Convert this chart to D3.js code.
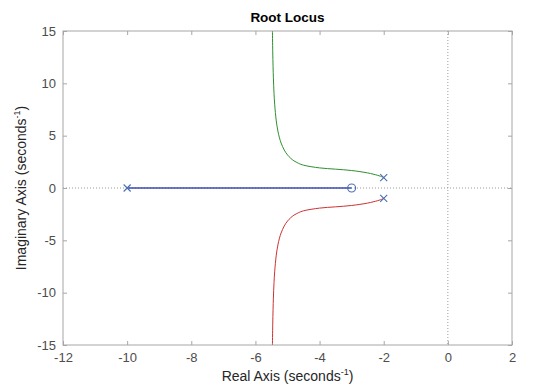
<!DOCTYPE html>
<html>
<head>
<meta charset="utf-8">
<script src="https://cdn.jsdelivr.net/npm/d3@7"></script>
<style>
  body { margin: 0; background: #fff; }
  svg { font-family: "Liberation Sans", Arial, sans-serif; }
</style>
</head>
<body>
<div id="chart"></div>
<script>
// values
var xTicks = [-12, -10, -8, -6, -4, -2, 0, 2];
var yTicks = [-15, -10, -5, 0, 5, 10, 15];
var poles = [[-10, 0], [-2, 1], [-2, -1]];
var zeros = [[-3, 0]];
var realBranch = [[-10, 0], [-3, 0]];
var upperRe = [-2, -2.1, -2.2, -2.5, -3, -3.5, -4, -4.5, -4.65, -4.8, -4.9, -5, -5.1, -5.2, -5.25, -5.3, -5.35, -5.4, -5.42, -5.44, -5.45, -5.46, -5.47];
var upperIm = [1, 1.12, 1.22, 1.44, 1.67, 1.80, 1.92, 2.18, 2.35, 2.60, 2.84, 3.16, 3.62, 4.30, 4.79, 5.45, 6.41, 8.01, 9.03, 10.52, 11.58, 13.0, 15.08];
var lowerRe = upperRe.slice();
var lowerIm = [-1, -1.12, -1.22, -1.44, -1.67, -1.80, -1.92, -2.18, -2.35, -2.60, -2.84, -3.16, -3.62, -4.30, -4.79, -5.45, -6.41, -8.01, -9.03, -10.52, -11.58, -13.0, -15.08];

var W = 549, H = 387;
var mLeft = 63, mRight = 512, mTop = 31, mBottom = 345;

var svg = d3.select('#chart').append('svg')
  .attr('width', W).attr('height', H);

var x = d3.scaleLinear().domain([-12, 2]).range([mLeft, mRight]);
var y = d3.scaleLinear().domain([-15, 15]).range([mBottom, mTop]);

svg.append('clipPath').attr('id', 'clip')
  .append('rect').attr('x', mLeft).attr('y', mTop)
  .attr('width', mRight - mLeft).attr('height', mBottom - mTop);

var axisColor = '#a6a6a6', labelColor = '#4d4d4d';
var fmt = function(d) { return String(d); };

// dotted zero lines
svg.append('line')
  .attr('x1', mLeft).attr('x2', mRight).attr('y1', y(0)).attr('y2', y(0))
  .attr('stroke', '#9a9a9a').attr('stroke-dasharray', '1,2');
svg.append('line')
  .attr('x1', x(0)).attr('x2', x(0)).attr('y1', mTop).attr('y2', mBottom)
  .attr('stroke', '#9a9a9a').attr('stroke-dasharray', '1,2');

var xy = d3.line().x(function(d) { return x(d[0]); }).y(function(d) { return y(d[1]); });
var smooth = d3.line().x(function(d) { return x(d[0]); }).y(function(d) { return y(d[1]); })
  .curve(d3.curveCatmullRom);

var g = svg.append('g').attr('clip-path', 'url(#clip)');

g.append('path').datum(realBranch).attr('d', xy)
  .attr('fill', 'none').attr('stroke', '#3a4ab0').attr('stroke-width', 1.6);
g.append('path').datum(d3.zip(upperRe, upperIm)).attr('d', smooth)
  .attr('fill', 'none').attr('stroke', '#2f8f2f').attr('stroke-width', 1);
g.append('path').datum(d3.zip(lowerRe, lowerIm)).attr('d', smooth)
  .attr('fill', 'none').attr('stroke', '#cc3333').attr('stroke-width', 1);

// axes box
svg.append('rect').attr('x', mLeft).attr('y', mTop)
  .attr('width', mRight - mLeft).attr('height', mBottom - mTop)
  .attr('fill', 'none').attr('stroke', axisColor).attr('stroke-width', 1);

function styleAxis(sel) {
  sel.select('.domain').remove();
  sel.selectAll('.tick line').attr('stroke', axisColor);
  sel.selectAll('.tick text').attr('fill', labelColor).style('font-size', '13px')
    .style('font-family', '"Liberation Sans", Arial, sans-serif');
}

svg.append('g').attr('transform', 'translate(0,' + mBottom + ')')
  .call(d3.axisBottom(x).tickValues(xTicks).tickSize(-4).tickPadding(8).tickFormat(fmt)).call(styleAxis);
svg.append('g').attr('transform', 'translate(0,' + mTop + ')')
  .call(d3.axisTop(x).tickValues(xTicks).tickSize(-4).tickFormat('')).call(styleAxis);
svg.append('g').attr('transform', 'translate(' + mLeft + ',0)')
  .call(d3.axisLeft(y).tickValues(yTicks).tickSize(-4).tickPadding(7).tickFormat(fmt)).call(styleAxis);
svg.append('g').attr('transform', 'translate(' + mRight + ',0)')
  .call(d3.axisRight(y).tickValues(yTicks).tickSize(-4).tickFormat('')).call(styleAxis);

// markers
var mk = '#4a6fb5';
svg.selectAll('.pole').data(poles).enter().append('path')
  .attr('d', function(d) {
    var cx = x(d[0]), cy = y(d[1]), s = 3.5;
    return 'M' + (cx - s) + ',' + (cy - s) + 'L' + (cx + s) + ',' + (cy + s) +
           'M' + (cx - s) + ',' + (cy + s) + 'L' + (cx + s) + ',' + (cy - s);
  })
  .attr('stroke', mk).attr('stroke-width', 1.1).attr('fill', 'none');
svg.selectAll('.zero').data(zeros).enter().append('circle')
  .attr('cx', function(d) { return x(d[0]); }).attr('cy', function(d) { return y(d[1]); })
  .attr('r', 4).attr('stroke', mk).attr('stroke-width', 1.1).attr('fill', 'none');

// texts
svg.append('text').attr('x', (mLeft + mRight) / 2).attr('y', 22)
  .attr('text-anchor', 'middle').style('font-size', '13.5px').style('font-weight', 'bold')
  .attr('fill', '#000').text('Root Locus');

var xl = svg.append('text').attr('x', (mLeft + mRight) / 2).attr('y', 381)
  .attr('text-anchor', 'middle').style('font-size', '14px').attr('fill', '#262626');
xl.append('tspan').text('Real Axis (seconds');
xl.append('tspan').attr('dy', -6).style('font-size', '9px').text('-1');
xl.append('tspan').attr('dy', 6).text(')');

var yl = svg.append('text').attr('transform', 'translate(26,' + ((mTop + mBottom) / 2) + ') rotate(-90)')
  .attr('text-anchor', 'middle').style('font-size', '14px').attr('fill', '#262626');
yl.append('tspan').text('Imaginary Axis (seconds');
yl.append('tspan').attr('dy', -6).style('font-size', '9px').text('-1');
yl.append('tspan').attr('dy', 6).text(')');
</script>
</body>
</html>
